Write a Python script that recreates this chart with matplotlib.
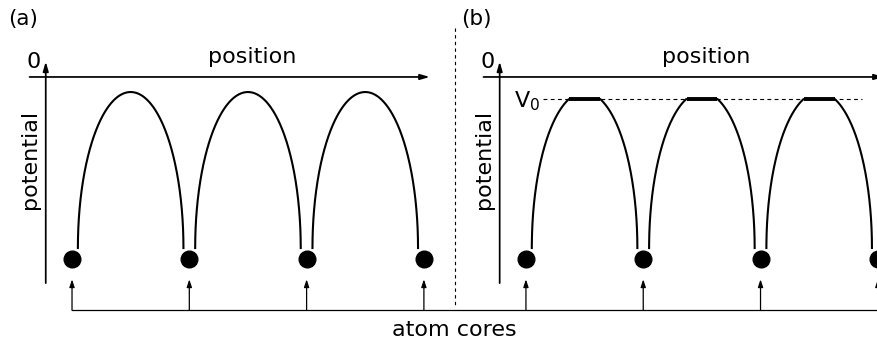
import numpy as np
import matplotlib.pyplot as plt

plt.rcParams['font.family'] = 'DejaVu Sans'
plt.rcParams['mathtext.default'] = 'regular'

# lattice (x in units of atom spacing, potential in units of well depth)
atoms = np.array([0.0, 1.0, 2.0, 3.0])
panel_b_shift = 3.87
barrier_peak = -0.088     # top of the unscreened barrier
well_floor = -1.0         # where the drawn potential stops near a core
v0 = -0.129               # muffin-tin flat level
core_level = -1.064
arch_halfwidth = 0.45

panel_labels = ['(a)', '(b)']
x_label = 'position'
y_label = 'potential'
core_label = 'atom cores'

fig = plt.figure(figsize=(8.77, 3.51), dpi=100)
ax = fig.add_axes([0, 0, 1, 1])
ax.set_xlim(-0.614, 6.863)
ax.set_ylim(-1.602, 0.450)
ax.axis('off')

fs = 16
lw_axis = 1.25
lw_curve = 1.5


def arrow(x0, y0, x1, y1, lw, hl, hw):
    ax.annotate('', xy=(x1, y1), xytext=(x0, y0),
                arrowprops=dict(arrowstyle=f'-|>,head_length={hl},head_width={hw}',
                                lw=lw, color='black', shrinkA=0, shrinkB=0),
                annotation_clip=False)


def arches(shift, flat=None):
    t = np.linspace(0, np.pi, 400)
    b = barrier_peak - well_floor
    for left, right in zip(atoms[:-1], atoms[1:]):
        c = (left + right) / 2 + shift
        x = c + arch_halfwidth * np.cos(t)
        y = well_floor + b * np.sin(t)
        if flat is not None:
            y = np.minimum(y, flat)
            top = y >= flat
            ax.plot(x[top], y[top], color='black', lw=2.8, solid_capstyle='butt')
        ax.plot(x, y, color='black', lw=lw_curve)


for k, shift in enumerate([0.0, panel_b_shift]):
    yax_x = shift - 0.224
    xax_start = shift - 0.362
    # axes
    arrow(yax_x, -1.205, yax_x, 0.09, lw_axis, 0.55, 0.16)
    arrow(xax_start, 0.0, shift + 3.05, 0.0, lw_axis, 0.55, 0.16)
    ax.text(shift - 0.325, 0.088, '0', fontsize=fs, ha='center', va='center')
    ax.text(shift + 1.535, 0.117, x_label, fontsize=fs, ha='center', va='center')
    ax.text(shift - 0.36, -0.48, y_label, fontsize=fs, ha='center', va='center',
            rotation=90)
    ax.text(shift - 0.42, 0.339, panel_labels[k], fontsize=fs - 0.5, ha='center',
            va='center')
    # cores
    ax.plot(atoms + shift, np.full(len(atoms), core_level), 'o', color='black',
            ms=12, clip_on=False)
    for xa in atoms + shift:
        arrow(xa, -1.363, xa, -1.183, 0.9, 0.45, 0.15)
    arches(shift, None if k == 0 else v0)

# V0 level in panel (b)
ax.plot([panel_b_shift + 0.145, panel_b_shift + 2.864], [v0, v0], color='black',
        lw=0.8, ls=(0, (3.5, 3)))
ax.text(panel_b_shift + 0.01, v0 - 0.01, 'V$_0$', fontsize=fs, ha='center',
        va='center')

# common baseline for the core pointers
ax.plot([atoms[0], 7.0], [-1.363, -1.363], color='black', lw=0.9)
ax.text(3.257, -1.48, core_label, fontsize=fs, ha='center', va='center')

# separator between panels
ax.plot([3.265, 3.265], [0.287, -1.351], color='black', lw=0.8, ls=(0, (3, 3)))

fig.savefig('out.png', dpi=100)
